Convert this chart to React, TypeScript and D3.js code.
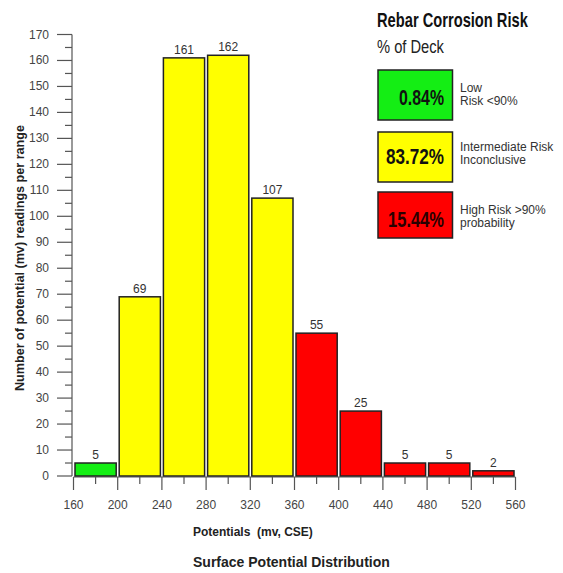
import React from 'react';
import * as d3 from 'd3';

// histogram bins (mv, CSE) and readings per bin
const binStarts = [160, 200, 240, 280, 320, 360, 400, 440, 480, 520];
const binWidth = 40;
const counts = [5, 69, 161, 162, 107, 55, 25, 5, 5, 2];
const riskClass = ['low', 'mid', 'mid', 'mid', 'mid', 'high', 'high', 'high', 'high', 'high'];

const xTicks = [160, 200, 240, 280, 320, 360, 400, 440, 480, 520, 560];
const yTicks = d3.range(0, 171, 10);

const legendRows = [
  { key: 'low', pct: '0.84%', lines: ['Low', 'Risk <90%'] },
  { key: 'mid', pct: '83.72%', lines: ['Intermediate Risk', 'Inconclusive'] },
  { key: 'high', pct: '15.44%', lines: ['High Risk >90%', 'probability'] },
];

const colors: Record<string, string> = { low: '#14ee14', mid: '#ffff00', high: '#ff0000' };

const W = 563;
const H = 573;
const FONT = '"Liberation Sans", Arial, sans-serif';

// condensed look: measure the text and squeeze it horizontally to a target width
const ctx = document.createElement('canvas').getContext('2d');
function squeeze(txt: string, font: string, target: number) {
  if (!ctx) return 0.75;
  ctx.font = font;
  const w = ctx.measureText(txt).width;
  return w > 0 ? target / w : 0.75;
}

export default function App() {
  const x = d3.scaleLinear().domain([160, 560]).range([73.5, 515.5]);
  const y = d3.scaleLinear().domain([0, 170]).range([476, 34.5]);
  const axisColor = '#555';
  const minorX = d3.range(180, 560, 40);
  const minorY = d3.range(5, 170, 10);

  // legend layout
  const boxes = [
    { y0: 70, y1: 120, base: 105, tl: 45, l1: 92, l2: 105 },
    { y0: 132, y1: 182, base: 164, tl: 58, l1: 151, l2: 164 },
    { y0: 192, y1: 238, base: 227, tl: 56, l1: 214, l2: 227 },
  ];

  const titleFont = 'bold 20px "Liberation Sans"';
  const subFont = '18px "Liberation Sans"';
  const pctFont = 'bold 22px "Liberation Sans"';

  return (
    <svg width={W} height={H} style={{ position: 'absolute', left: 0, top: 0, background: '#fff' }}>
      {/* y axis */}
      <line x1={72} x2={72} y1={y(170)} y2={y(0)} stroke={axisColor} strokeWidth={1.2} />
      {yTicks.map(t => (
        <g key={'y' + t}>
          <line x1={57} x2={72} y1={y(t)} y2={y(t)} stroke={axisColor} strokeWidth={1.2} />
          <text x={49} y={y(t) + 4} textAnchor="end" fontFamily={FONT} fontSize={12} fill="#444">{t}</text>
        </g>
      ))}
      {minorY.map(t => (
        <line key={'my' + t} x1={65} x2={72} y1={y(t)} y2={y(t)} stroke={axisColor} strokeWidth={1.2} />
      ))}

      {/* x axis */}
      <line x1={x(160)} x2={x(560)} y1={477} y2={477} stroke={axisColor} strokeWidth={1.2} />
      {xTicks.map(t => (
        <g key={'x' + t}>
          <line x1={x(t)} x2={x(t)} y1={477} y2={490} stroke={axisColor} strokeWidth={1.2} />
          <text x={x(t)} y={509} textAnchor="middle" fontFamily={FONT} fontSize={12} fill="#444">{t}</text>
        </g>
      ))}
      {minorX.map(t => (
        <line key={'mx' + t} x1={x(t)} x2={x(t)} y1={477} y2={484} stroke={axisColor} strokeWidth={1.2} />
      ))}

      {/* bars */}
      {binStarts.map((b, i) => {
        const x0 = x(b) + 1.5;
        const x1 = x(b + binWidth) - 1.5;
        return (
          <g key={'b' + b}>
            <rect x={x0} y={y(counts[i])} width={x1 - x0} height={y(0) - y(counts[i])}
              fill={colors[riskClass[i]]} stroke="#222" strokeWidth={1.5} />
            <text x={(x0 + x1) / 2} y={y(counts[i]) - 4} textAnchor="middle" fontFamily={FONT}
              fontSize={12} fill="#333">{counts[i]}</text>
          </g>
        );
      })}

      {/* axis titles */}
      <text transform="translate(24,258) rotate(-90)" textAnchor="middle" fontFamily={FONT}
        fontSize={12.5} fontWeight="bold" fill="#222" textLength={266}
        lengthAdjust="spacingAndGlyphs">Number of potential (mv) readings per range</text>
      <text x={193} y={536} fontFamily={FONT} fontSize={12} fontWeight="bold" fill="#222"
        style={{ whiteSpace: 'pre' }}>Potentials  (mv, CSE)</text>
      <text x={193} y={567} fontFamily={FONT} fontSize={14} fontWeight="bold" fill="#222">Surface Potential Distribution</text>

      {/* legend */}
      <text transform={`translate(377,27) scale(${squeeze('Rebar Corrosion Risk', titleFont, 151)},1)`}
        fontFamily={FONT} fontSize={20} fontWeight="bold" fill="#111">Rebar Corrosion Risk</text>
      <text transform={`translate(377,53) scale(${squeeze('% of Deck', subFont, 67)},1)`}
        fontFamily={FONT} fontSize={18} fill="#222">% of Deck</text>
      {legendRows.map((r, i) => {
        const bx = boxes[i];
        return (
          <g key={r.key}>
            <rect x={378} y={bx.y0} width={74.5} height={bx.y1 - bx.y0} fill={colors[r.key]}
              stroke="#222" strokeWidth={1.5} />
            <text transform={`translate(444,${bx.base}) scale(${squeeze(r.pct, pctFont, bx.tl)},1)`}
              textAnchor="end" fontFamily={FONT} fontSize={22} fontWeight="bold"
              fill={r.key === 'high' ? '#2a0000' : '#111'}>{r.pct}</text>
            <text x={460} y={bx.l1} fontFamily={FONT} fontSize={12} fill="#333">{r.lines[0]}</text>
            <text x={460} y={bx.l2} fontFamily={FONT} fontSize={12} fill="#333">{r.lines[1]}</text>
          </g>
        );
      })}
    </svg>
  );
}
